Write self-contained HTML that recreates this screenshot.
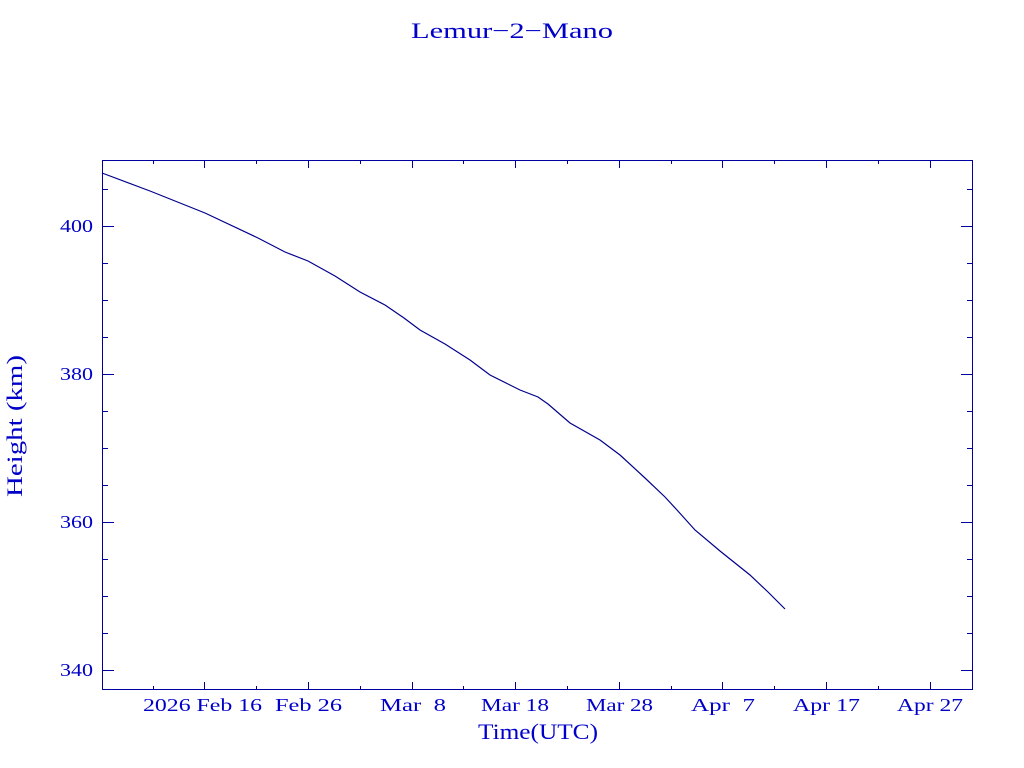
<!DOCTYPE html>
<html><head><meta charset="utf-8"><style>
html,body{margin:0;padding:0;background:#fff;}
svg{display:block;}
text{font-family:"Liberation Serif",serif;fill:#0000c8;}
</style></head><body>
<svg width="1024" height="768" viewBox="0 0 1024 768">
<g stroke="#0000a0" stroke-width="1" fill="none" shape-rendering="crispEdges">
<rect x="102.5" y="160.5" width="870" height="529"/>
<path d="M102 226.5h12M102 374.5h12M102 522.5h12M102 670.5h12M973 226.5h-12M973 374.5h-12M973 522.5h-12M973 670.5h-12"/>
<path d="M102 189.5h6M102 263.5h6M102 300.5h6M102 337.5h6M102 411.5h6M102 448.5h6M102 485.5h6M102 559.5h6M102 596.5h6M102 633.5h6
M973 189.5h-6M973 263.5h-6M973 300.5h-6M973 337.5h-6M973 411.5h-6M973 448.5h-6M973 485.5h-6M973 559.5h-6M973 596.5h-6M973 633.5h-6"/>
<path d="M204.5 690v-8M308.5 690v-8M412.5 690v-8M515.5 690v-8M619.5 690v-8M722.5 690v-8M826.5 690v-8M930.5 690v-8
M204.5 160v8M308.5 160v8M412.5 160v8M515.5 160v8M619.5 160v8M722.5 160v8M826.5 160v8M930.5 160v8"/>
<path d="M153.5 690v-4M256.5 690v-4M360.5 690v-4M463.5 690v-4M567.5 690v-4M671.5 690v-4M774.5 690v-4M878.5 690v-4
M153.5 160v4M256.5 160v4M360.5 160v4M463.5 160v4M567.5 160v4M671.5 160v4M774.5 160v4M878.5 160v4"/>
</g>
<polyline fill="none" stroke="#00008b" stroke-width="1.2" points="102,173 150,191 205,213 258,238 285,252 308,261 335,276 360,292 385,305 404,318 420,330 445,344 470,360 490,375 520,390 538,397 548,404 570,423 600,440 620,455 645,478 665,497 677,510 695,530 720,551 750,575 768,592 785,609"/>
<text x="411" y="38" font-size="22" textLength="202" lengthAdjust="spacingAndGlyphs">Lemur−2−Mano</text>
<g font-size="18">
<text x="60" y="232" textLength="33" lengthAdjust="spacingAndGlyphs">400</text>
<text x="60" y="380" textLength="33" lengthAdjust="spacingAndGlyphs">380</text>
<text x="60" y="528" textLength="33" lengthAdjust="spacingAndGlyphs">360</text>
<text x="60" y="676" textLength="33" lengthAdjust="spacingAndGlyphs">340</text>
</g>
<g font-size="18">
<text x="143" y="711" textLength="119" lengthAdjust="spacingAndGlyphs">2026 Feb 16</text>
<text x="275" y="711" textLength="67" lengthAdjust="spacingAndGlyphs">Feb 26</text>
<text x="380" y="711" textLength="66" lengthAdjust="spacingAndGlyphs">Mar&#160;&#160;8</text>
<text x="481" y="711" textLength="68" lengthAdjust="spacingAndGlyphs">Mar 18</text>
<text x="586" y="711" textLength="67" lengthAdjust="spacingAndGlyphs">Mar 28</text>
<text x="691" y="711" textLength="64" lengthAdjust="spacingAndGlyphs">Apr&#160;&#160;7</text>
<text x="793" y="711" textLength="67" lengthAdjust="spacingAndGlyphs">Apr 17</text>
<text x="897" y="711" textLength="66" lengthAdjust="spacingAndGlyphs">Apr 27</text>
</g>
<text x="478" y="739" font-size="22" textLength="120" lengthAdjust="spacingAndGlyphs">Time(UTC)</text>
<text transform="translate(22,497) rotate(-90)" font-size="22" textLength="142" lengthAdjust="spacingAndGlyphs">Height (km)</text>
</svg>
</body></html>
